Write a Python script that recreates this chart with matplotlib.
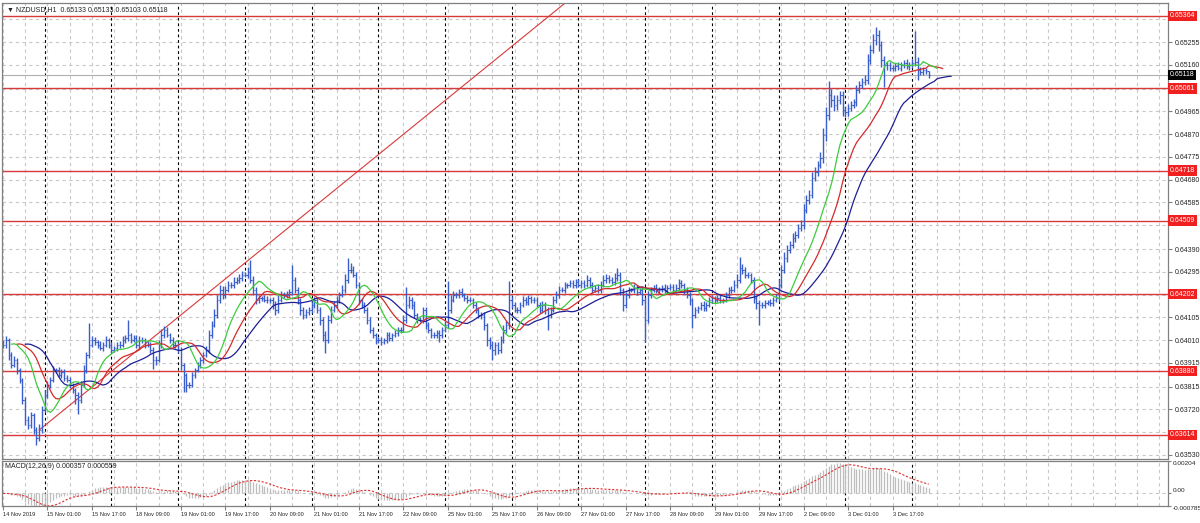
import numpy as np
import pandas as pd
import matplotlib
matplotlib.use('Agg')
import matplotlib.pyplot as plt
import matplotlib.transforms as mtransforms
from matplotlib import font_manager

# NZDUSD H1, ceny zamkniecia w punktach (1e-5), od 14 Nov 2019 09:00
close_pts = [
    63990, 64010, 63948, 63906, 63927, 63885, 63843, 63760, 63676, 63655,
    63697, 63634, 63601, 63634, 63718, 63781, 63822, 63843, 63885, 63885,
    63864, 63877, 63852, 63843, 63822, 63802, 63781, 63760, 63822, 63885,
    63948, 63990, 64010, 64002, 63990, 63977, 63990, 64010, 63990, 63969,
    63977, 63990, 63990, 64010, 64019, 64031, 64010, 64019, 63990, 64010,
    64010, 63990, 63990, 63969, 63927, 63927, 63990, 64031, 64052, 64031,
    64010, 63990, 63990, 63969, 63906, 63864, 63822, 63822, 63864, 63885,
    63906, 63927, 63948, 63969, 64031, 64073, 64115, 64177, 64219, 64198,
    64219, 64240, 64240, 64253, 64261, 64269, 64282, 64282, 64294, 64261,
    64219, 64177, 64186, 64186, 64177, 64177, 64177, 64157, 64136, 64177,
    64198, 64198, 64198, 64211, 64261, 64219, 64177, 64136, 64115, 64127,
    64136, 64157, 64177, 64136, 64094, 64031, 64010, 64094, 64136, 64157,
    64177, 64198, 64219, 64261, 64303, 64303, 64282, 64240, 64177, 64157,
    64136, 64094, 64052, 64031, 64010, 64010, 64002, 64010, 64031, 64019,
    64031, 64040, 64052, 64052, 64094, 64157, 64177, 64157, 64115, 64094,
    64094, 64136, 64073, 64052, 64031, 64031, 64040, 64031, 64052, 64073,
    64136, 64177, 64198, 64198, 64211, 64198, 64186, 64177, 64177, 64157,
    64136, 64115, 64115, 64073, 64010, 63990, 63969, 63990, 63969, 64010,
    64052, 64073, 64177, 64157, 64136, 64136, 64157, 64177, 64169, 64186,
    64177, 64177, 64157, 64136, 64157, 64136, 64115, 64136, 64177, 64198,
    64219, 64219, 64240, 64240, 64248, 64240, 64253, 64240, 64248, 64240,
    64261, 64240, 64219, 64228, 64219, 64240, 64261, 64269, 64261, 64253,
    64269, 64282, 64219, 64157, 64198, 64219, 64219, 64228, 64211, 64219,
    64177, 64094, 64198, 64219, 64228, 64219, 64219, 64228, 64219, 64228,
    64232, 64219, 64228, 64248, 64240, 64219, 64198, 64177, 64115, 64136,
    64144, 64157, 64144, 64157, 64177, 64186, 64177, 64186, 64177, 64177,
    64198, 64219, 64219, 64240, 64261, 64311, 64303, 64282, 64282, 64261,
    64186, 64165, 64157, 64157, 64165, 64169, 64165, 64177, 64186, 64240,
    64303, 64353, 64386, 64407, 64436, 64449, 64478, 64491, 64553, 64595,
    64616, 64687, 64712, 64741, 64771, 64867, 64950, 65034, 65013, 64992,
    65013, 65034, 64971, 64963, 64979, 64992, 65004, 65055, 65076, 65088,
    65096, 65180, 65222, 65264, 65284, 65243, 65180, 65159, 65159, 65147,
    65147, 65155, 65147, 65159, 65167, 65155, 65159, 65167, 65172, 65138,
    65130, 65138, 65133, 65118,
]
# knoty gorne i dolne (punkty)
wick_up = [
    20, 15, 10, 12, 18, 10, 8, 10, 12, 15,
    14, 10, 12, 25, 15, 20, 18, 12, 15, 10,
    12, 10, 14, 10, 12, 10, 8, 10, 15, 20,
    14, 90, 15, 12, 10, 14, 12, 18, 10, 12,
    10, 12, 14, 16, 12, 63, 10, 14, 12, 18,
    12, 10, 14, 10, 12, 15, 20, 25, 18, 12,
    10, 14, 12, 10, 12, 8, 10, 12, 14, 10,
    12, 14, 10, 15, 20, 18, 25, 20, 22, 15,
    18, 15, 12, 20, 14, 16, 18, 12, 20, 51,
    15, 12, 14, 10, 12, 16, 10, 12, 14, 20,
    15, 12, 18, 14, 63, 14, 12, 10, 14, 12,
    10, 15, 14, 12, 10, 12, 15, 20, 18, 14,
    16, 12, 20, 25, 50, 30, 15, 12, 14, 10,
    12, 10, 14, 12, 10, 14, 12, 10, 14, 12,
    10, 12, 14, 12, 20, 75, 15, 12, 14, 10,
    12, 14, 10, 12, 10, 14, 12, 10, 14, 18,
    120, 20, 15, 14, 12, 16, 10, 12, 14, 10,
    12, 10, 14, 12, 10, 12, 14, 10, 12, 15,
    20, 18, 80, 15, 12, 14, 10, 16, 14, 12,
    10, 14, 12, 10, 14, 12, 10, 14, 18, 15,
    16, 12, 14, 10, 12, 14, 12, 10, 14, 12,
    20, 14, 12, 10, 14, 16, 20, 18, 14, 12,
    20, 29, 12, 10, 14, 12, 10, 14, 12, 10,
    12, 14, 16, 12, 10, 14, 12, 10, 14, 12,
    12, 10, 14, 16, 12, 10, 12, 14, 10, 12,
    10, 12, 14, 10, 12, 14, 10, 12, 14, 10,
    12, 14, 16, 20, 25, 46, 15, 12, 14, 10,
    12, 10, 14, 10, 12, 10, 12, 14, 16, 25,
    20, 25, 20, 18, 20, 15, 18, 20, 25, 20,
    22, 25, 20, 18, 25, 30, 35, 60, 25, 20,
    22, 18, 15, 14, 16, 15, 14, 20, 18, 16,
    20, 25, 22, 25, 34, 20, 18, 15, 14, 12,
    14, 12, 16, 12, 14, 15, 12, 16, 130, 20,
    12, 14, 10, 0,
]
wick_down = [
    15, 12, 20, 14, 10, 16, 12, 18, 20, 15,
    14, 18, 29, 12, 14, 10, 12, 14, 10, 12,
    10, 14, 12, 10, 12, 14, 40, 60, 14, 10,
    12, 14, 10, 12, 14, 10, 12, 10, 14, 12,
    10, 12, 14, 10, 12, 14, 12, 10, 14, 12,
    12, 14, 10, 12, 40, 20, 10, 12, 14, 10,
    12, 10, 14, 12, 20, 70, 30, 14, 10, 12,
    10, 12, 14, 10, 12, 14, 10, 12, 14, 15,
    12, 10, 14, 12, 10, 14, 12, 10, 14, 12,
    20, 15, 12, 14, 10, 12, 14, 16, 20, 12,
    10, 14, 12, 10, 14, 12, 16, 20, 18, 14,
    12, 14, 12, 14, 20, 25, 54, 14, 12, 10,
    12, 14, 10, 12, 14, 12, 10, 14, 16, 12,
    14, 16, 12, 14, 18, 12, 14, 10, 12, 14,
    12, 10, 14, 12, 10, 14, 12, 16, 14, 12,
    10, 14, 16, 12, 14, 12, 14, 29, 12, 10,
    14, 12, 10, 14, 12, 10, 14, 12, 10, 14,
    12, 14, 16, 20, 25, 18, 42, 20, 18, 14,
    12, 14, 16, 12, 10, 14, 12, 10, 14, 12,
    12, 14, 10, 12, 14, 16, 63, 12, 10, 14,
    12, 10, 14, 12, 10, 14, 12, 10, 14, 12,
    10, 14, 12, 10, 14, 12, 10, 14, 12, 10,
    12, 14, 20, 25, 14, 12, 10, 14, 12, 10,
    20, 92, 14, 12, 10, 14, 12, 10, 14, 12,
    10, 14, 12, 10, 14, 16, 14, 20, 54, 14,
    12, 10, 14, 12, 10, 14, 12, 10, 14, 12,
    10, 14, 12, 10, 14, 12, 16, 14, 12, 14,
    20, 25, 84, 14, 12, 10, 14, 12, 10, 12,
    14, 12, 16, 14, 12, 16, 14, 12, 18, 14,
    16, 14, 12, 18, 14, 20, 25, 20, 30, 25,
    20, 18, 25, 20, 16, 14, 12, 16, 14, 12,
    14, 16, 18, 14, 20, 25, 30, 92, 20, 14,
    12, 14, 10, 12, 14, 12, 16, 14, 12, 42,
    12, 14, 10, 15,
]

start_time = '2019-11-14 09:00'
levels = [0.65364, 0.65061, 0.64718, 0.64509, 0.64202, 0.63880, 0.63614]
last_price = 0.65118
# siatka cenowa; etykiety ukryte pod czerwonymi polami nie sa pisane
price_grid = [0.63530, 0.63625, 0.63720, 0.63815, 0.63915, 0.64010, 0.64105,
              0.64200, 0.64295, 0.64390, 0.64490, 0.64585, 0.64680, 0.64775,
              0.64870, 0.64965, 0.65060, 0.65160, 0.65255, 0.65350]
price_ticks = [0.63530, 0.63720, 0.63815, 0.63915, 0.64010, 0.64105,
               0.64295, 0.64390, 0.64585, 0.64680, 0.64775,
               0.64870, 0.64965, 0.65160, 0.65255]
trend_bars = [13, 83]
trend_prices = [0.63634, 0.64294]
macd_ticks = [0.00204, 0.0, -0.000785]
macd_labels = ['0.00204', '0.00', '-0.000785']

installed = {f.name for f in font_manager.fontManager.ttflist}
narrow = 'Liberation Sans Narrow' in installed
FONT = ['Liberation Sans Narrow', 'Liberation Sans', 'DejaVu Sans'] if narrow else ['Liberation Sans', 'DejaVu Sans']
plt.rcParams['font.family'] = FONT
fs = 5.9 if narrow else 5.0
fs_time = 5.4 if narrow else 4.1

# OHLC
close = np.array(close_pts) / 1e5
opn = np.r_[close[0], close[:-1]]
high = np.maximum(opn, close) + np.array(wick_up) / 1e5
low = np.minimum(opn, close) - np.array(wick_down) / 1e5
n = len(close)
idx = np.arange(n)

# czas - tylko dni robocze
hours = pd.date_range(start_time, periods=n * 2, freq='h')
hours = hours[hours.weekday < 5][:n]

# Alligator (SMMA z ceny mediany)
def smma(x, p):
    out = np.empty_like(x)
    out[0] = x[0]
    for k in range(1, len(x)):
        out[k] = (out[k - 1] * (p - 1) + x[k]) / p
    return out

median = (high + low) / 2
jaw = smma(median, 13)
teeth = smma(median, 8)
lips = smma(median, 5)

# MACD(12,26,9)
s = pd.Series(close)
macd = (s.ewm(span=12, adjust=False).mean() - s.ewm(span=26, adjust=False).mean()).values
signal = pd.Series(macd).rolling(9, min_periods=1).mean().values

W, H = 1200, 523
fig = plt.figure(figsize=(W / 100, H / 100), dpi=100)
ax = fig.add_axes([2 / W, 1 - 459 / H, 1166 / W, 456 / H])
axm = fig.add_axes([2 / W, 1 - 506 / H, 1166 / W, 45 / H], sharex=ax)

xmin, xmax = -0.36, 419.06
ax.set_xlim(xmin, xmax)
ax.set_ylim(0.63513, 0.65418)
axm.set_ylim(-0.000785, 0.00204)

grid_c = '#c8c8c8'
day_starts = idx[hours.hour == 0]
for a in (ax, axm):
    a.vlines(np.arange(0, 420, 8), 0, 1, transform=a.get_xaxis_transform(),
             colors=grid_c, linestyles=(0, (3, 3)), lw=0.8, zorder=0.5)
    a.vlines(day_starts, 0, 1, transform=a.get_xaxis_transform(),
             colors='black', linestyles=(0, (2.5, 2.5)), lw=0.8, zorder=0.6)
    for sp in a.spines.values():
        sp.set_color('#808080')
        sp.set_linewidth(0.9)

ax.hlines(price_grid, xmin, xmax, colors=grid_c, linestyles=(0, (3, 3)), lw=0.8, zorder=0.5)
axm.hlines([0.0], xmin, xmax, colors=grid_c, linestyles=(0, (3, 3)), lw=0.8, zorder=0.5)

# poziomy
ax.hlines(levels, xmin, xmax, colors='#d83a3a', lw=1.0, zorder=1.2)
ax.axhline(last_price, color='#b0b0b0', lw=0.8, zorder=1.1)

# linia trendu
slope = (trend_prices[1] - trend_prices[0]) / (trend_bars[1] - trend_bars[0])
ax.plot([trend_bars[0], trend_bars[0] + 300], [trend_prices[0], trend_prices[0] + slope * 300],
        color='#d83a3a', lw=0.8, zorder=1.3)

# slupki OHLC
bar_c = '#3a5fcd'
ax.vlines(idx, low, high, colors=bar_c, lw=1.0, zorder=2)
ax.hlines(opn, idx - 0.45, idx, colors=bar_c, lw=0.8, zorder=2)
ax.hlines(close, idx, idx + 0.45, colors=bar_c, lw=0.8, zorder=2)

# Alligator
ax.plot(idx + 8, jaw, color='#1e1e96', lw=0.9, zorder=3)
ax.plot(idx + 5, teeth, color='#d42a2a', lw=0.9, zorder=3)
ax.plot(idx + 3, lips, color='#3ccc3c', lw=0.9, zorder=3)

# MACD
axm.vlines(idx, 0, macd, colors='#bdbdbd', lw=0.9, zorder=2)
axm.plot(idx, signal, color='#e03030', lw=0.8, ls=(0, (2, 1.5)), zorder=3)

# osie
ax.yaxis.tick_right()
ax.set_yticks(price_ticks)
ax.set_yticklabels([f'{t:.5f}' for t in price_ticks])
ax.tick_params(axis='y', labelsize=fs, length=3, pad=2, colors='#808080', labelcolor='#222222')
ax.tick_params(axis='x', bottom=False, labelbottom=False)

axm.yaxis.tick_right()
axm.set_yticks(macd_ticks)
axm.set_yticklabels(macd_labels)
axm.tick_params(axis='y', labelsize=fs - 0.4, length=2, pad=1.5, colors='#808080', labelcolor='#222222')
for lbl, va in zip(axm.get_yticklabels(), ['top', 'bottom', 'top']):
    lbl.set_va(va)

tick_idx = np.arange(0, n, 16)
tick_lbls = ['14 Nov 2019' if k == 0 else f'{hours[k].day} {hours[k]:%b %H:%M}' for k in tick_idx]
axm.set_xticks(tick_idx)
axm.set_xticklabels(tick_lbls, ha='left')
axm.tick_params(axis='x', labelsize=fs_time, length=3, pad=1.5, colors='#808080', labelcolor='#222222')

# etykiety poziomow po prawej
trans = mtransforms.blended_transform_factory(ax.transAxes, ax.transData)
for lv in levels:
    ax.text(1.0015, lv, f'{lv:.5f}', transform=trans, fontsize=fs, color='white',
            va='center', ha='left', zorder=6, clip_on=False,
            bbox=dict(boxstyle='square,pad=0.25', fc='#f02020', ec='none'))
ax.text(1.0015, last_price, f'{last_price:.5f}', transform=trans, fontsize=fs, color='white',
        va='center', ha='left', zorder=6, clip_on=False,
        bbox=dict(boxstyle='square,pad=0.25', fc='black', ec='none'))

ax.text(0.004, 0.993, '\u25bc NZDUSD,H1  0.65133 0.65133 0.65103 0.65118', transform=ax.transAxes,
        fontsize=fs, va='top', ha='left', color='#222222', zorder=6,
        family=FONT)
axm.text(0.003, 0.95, 'MACD(12,26,9) 0.000357 0.000559', transform=axm.transAxes,
         fontsize=fs, va='top', ha='left', color='#222222', zorder=6)

fig.savefig('out.png', dpi=100, facecolor='white')
